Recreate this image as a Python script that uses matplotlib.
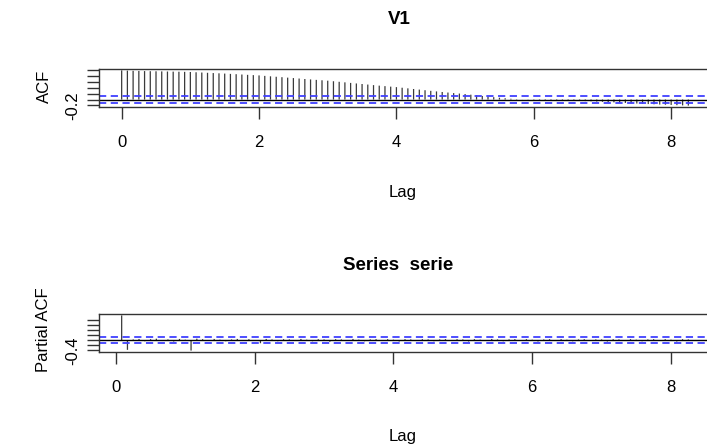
import matplotlib
matplotlib.use("Agg")
import matplotlib.pyplot as plt

plt.rcParams['font.family'] = ['Liberation Sans', 'DejaVu Sans']

# ---------------- data ----------------
freq = 12  # lags are in years (monthly series)

acf_values = [
    1.000, 0.992, 0.986, 0.981, 0.977, 0.973, 0.970, 0.966, 0.962, 0.958,
    0.955, 0.951, 0.946, 0.936, 0.927, 0.918, 0.909, 0.900, 0.891, 0.881,
    0.870, 0.859, 0.848, 0.838, 0.828, 0.812, 0.797, 0.782, 0.767, 0.752,
    0.737, 0.721, 0.705, 0.690, 0.675, 0.661, 0.647, 0.628, 0.609, 0.590,
    0.571, 0.552, 0.533, 0.514, 0.495, 0.477, 0.460, 0.443, 0.426, 0.405,
    0.384, 0.362, 0.341, 0.320, 0.299, 0.279, 0.259, 0.240, 0.222, 0.205,
    0.188, 0.166, 0.144, 0.123, 0.102, 0.082, 0.062, 0.044, 0.027, 0.012,
    0.002, -0.006, -0.012, -0.020, -0.026, -0.031, -0.035, -0.038, -0.041, -0.044,
    -0.048, -0.053, -0.060, -0.068, -0.077, -0.087, -0.097, -0.107, -0.117, -0.127,
    -0.137, -0.146, -0.155, -0.163, -0.171, -0.178, -0.185, -0.193, -0.201, -0.208,
]

pacf_values = [
    0.98, -0.38, 0.03, 0.05, -0.04, 0.04, 0.06, -0.03, 0.03, -0.05, 0.05, 0.02,
    -0.41, 0.06, 0.04, -0.03, 0.05, 0.02, -0.04, 0.03, 0.05, -0.02, 0.04, -0.03,
    -0.12, 0.05, 0.03, -0.04, 0.04, 0.03, -0.03, 0.05, 0.02, -0.04, 0.04, 0.03,
    -0.06, 0.04, 0.03, -0.03, 0.05, 0.02, -0.04, 0.03, 0.04, -0.03, 0.04, 0.02,
    -0.05, 0.04, 0.03, -0.03, 0.04, 0.03, -0.04, 0.03, 0.04, -0.02, 0.04, 0.03,
    -0.05, 0.04, 0.02, -0.03, 0.05, 0.03, -0.04, 0.03, 0.04, -0.03, 0.04, 0.02,
    -0.05, 0.03, 0.04, -0.03, 0.04, 0.02, -0.04, 0.03, 0.04, -0.02, 0.03, 0.03,
    -0.05, 0.04, 0.03, -0.03, 0.04, 0.02, -0.04, 0.03, 0.04, -0.03, 0.04, 0.02,
    -0.05, 0.04, 0.03,
]

ci = 0.11

x_ticks = [0, 2, 4, 6, 8]
x_tick_labels = ["0", "2", "4", "6", "8"]
acf_yticks = [-0.2, 0.0, 0.2, 0.4, 0.6, 0.8, 1.0]
acf_ytick_labels = ["-0.2", "", "", "", "", "", ""]
pacf_yticks = [-0.4, -0.2, 0.0, 0.2, 0.4, 0.6, 0.8]
pacf_ytick_labels = ["-0.4", "", "", "", "", "", ""]

title_acf = "V1"
title_pacf = "Series  serie"
ylabel_acf = "ACF"
ylabel_pacf = "Partial ACF"
xlabel = "Lag"

# ---------------- figure ----------------
W, H = 707, 446
fig = plt.figure(figsize=(W / 100, H / 100), dpi=100)


def rect(l, t, r, b):
    return [l / W, 1 - b / H, (r - l) / W, (b - t) / H]


def px(x, y):
    return x / W, 1 - y / H


ax1 = fig.add_axes(rect(99, 69, 711, 107))
ax2 = fig.add_axes(rect(99, 314, 711, 352))

acf_lags = [i / freq for i in range(len(acf_values))]
pacf_lags = [(i + 1) / freq for i in range(len(pacf_values))]


def r_lim(vals):
    lo, hi = min(vals), max(vals)
    d = hi - lo
    return lo - 0.04 * d, hi + 0.04 * d


def style(ax, lags, vals, yticks, ylabels):
    ax.vlines(lags, 0, vals, color='#3a3a3a', lw=0.9, snap=False)
    ax.axhline(0, color='black', lw=1.0)
    for s in (ci, -ci):
        ax.axhline(s, color='#4040ff', lw=1.3, linestyle=(0, (4, 2.5)))
    ax.set_xlim(*r_lim(lags))
    ax.set_ylim(*r_lim(list(vals) + [ci, -ci]))
    ax.set_xticks(x_ticks)
    ax.set_xticklabels(x_tick_labels)
    ax.set_yticks(yticks)
    ax.set_yticklabels(ylabels, rotation=90, va='center')
    ax.tick_params(axis='both', direction='out', length=8.5, width=1.0,
                   color='#333333', labelsize=12)
    ax.tick_params(axis='x', pad=12)
    ax.tick_params(axis='y', pad=5)
    for sp in ax.spines.values():
        sp.set_linewidth(1.0)
        sp.set_color('#333333')


style(ax1, acf_lags, acf_values, acf_yticks, acf_ytick_labels)
style(ax2, pacf_lags, pacf_values, pacf_yticks, pacf_ytick_labels)

# titles and labels (placed in pixel positions)
fig.text(*px(399, 19), title_acf, ha='center', va='center',
         fontsize=13.5, fontweight='bold')
fig.text(*px(398, 266), title_pacf, ha='center', va='center',
         fontsize=13.5, fontweight='bold')
fig.text(*px(403, 193), xlabel, ha='center', va='center', fontsize=12)
fig.text(*px(403, 437), xlabel, ha='center', va='center', fontsize=12)
fig.text(*px(44, 86), ylabel_acf, ha='center', va='center', fontsize=12,
         rotation=90)
fig.text(*px(44, 330), ylabel_pacf, ha='center', va='center', fontsize=12,
         rotation=90)

fig.savefig("out.png", dpi=100)
